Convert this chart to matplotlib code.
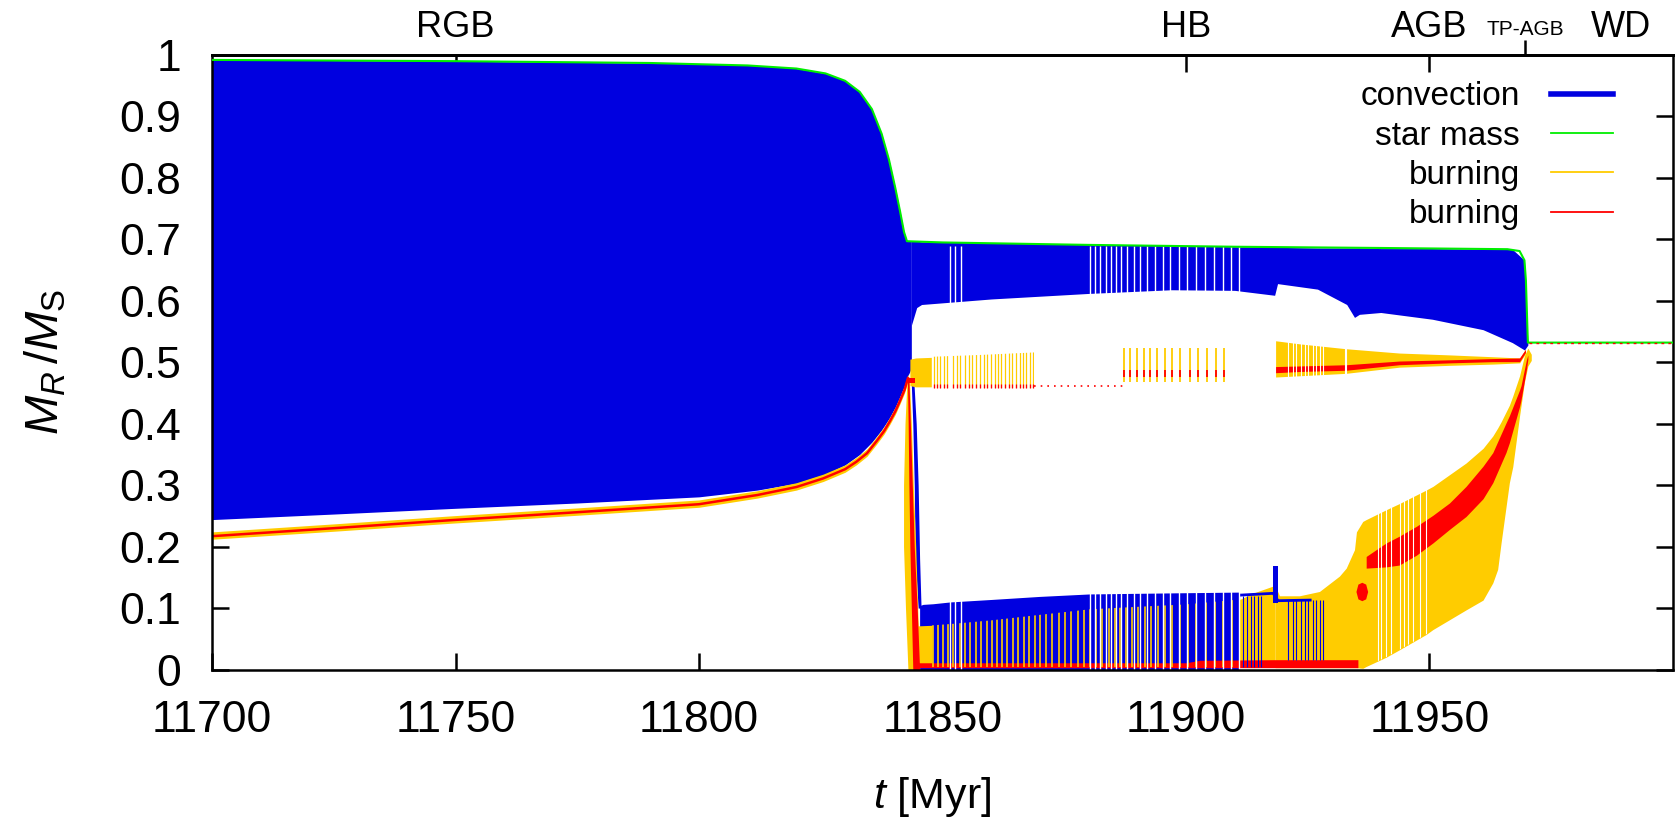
import matplotlib.pyplot as plt
from matplotlib.lines import Line2D

plt.rcParams['font.family'] = 'Liberation Sans'
plt.rcParams['mathtext.fontset'] = 'custom'
plt.rcParams['mathtext.rm'] = 'Liberation Sans'
plt.rcParams['mathtext.it'] = 'Liberation Sans:italic'

BLUE = '#0000e0'
YELLOW = '#ffcc00'
RED = '#ff0000'
GREEN = '#00ee00'

# axis ticks / labels
x_ticks = [11700, 11750, 11800, 11850, 11900, 11950]
y_ticks = [0, 0.1, 0.2, 0.3, 0.4, 0.5, 0.6, 0.7, 0.8, 0.9, 1.0]
y_labels = ['0', '0.1', '0.2', '0.3', '0.4', '0.5', '0.6', '0.7', '0.8', '0.9', '1']
phase_t = [11750, 11900, 11950]
phase_names = ['RGB', 'HB', 'AGB']
legend_labels = ['convection', 'star mass', 'burning', 'burning']

# star mass
t_star = [11700, 11750, 11790, 11810, 11820, 11826, 11830, 11833, 11835.5, 11837.5, 11839,
          11840.3, 11841.3, 11842.1, 11842.7, 11850, 11880, 11910, 11940, 11966, 11968.5,
          11969.5, 11969.8, 11970.2, 12000]
m_star = [0.992, 0.990, 0.987, 0.983, 0.978, 0.970, 0.958, 0.940, 0.912, 0.872, 0.830,
          0.784, 0.745, 0.712, 0.697, 0.695, 0.691, 0.688, 0.686, 0.684, 0.681,
          0.666, 0.633, 0.532, 0.532]

# convective envelope on the RGB
t_rgb = [11700, 11725, 11749, 11775, 11800, 11812, 11820, 11826, 11830, 11833, 11835.5,
         11837.5, 11839, 11840.3, 11841.3, 11842.1, 11842.7, 11843.6]
rgb_lo = [0.244, 0.253, 0.262, 0.271, 0.281, 0.292, 0.303, 0.318, 0.333, 0.350, 0.370,
          0.390, 0.408, 0.427, 0.445, 0.460, 0.475, 0.490]
rgb_hi = [0.992, 0.991, 0.990, 0.988, 0.986, 0.983, 0.978, 0.970, 0.958, 0.940, 0.912,
          0.872, 0.830, 0.784, 0.745, 0.712, 0.697, 0.697]

# convective envelope after the flash
t_hb = [11843.6, 11844.7, 11845.7, 11860, 11880, 11897, 11910, 11918.2, 11918.8, 11927,
        11933, 11934.6, 11935.6, 11940, 11950.6, 11961, 11967, 11969.5, 11970.2]
hb_lo = [0.560, 0.589, 0.594, 0.603, 0.612, 0.618, 0.617, 0.609, 0.628, 0.619,
         0.594, 0.573, 0.578, 0.581, 0.570, 0.553, 0.532, 0.520, 0.528]
hb_hi = [0.697, 0.697, 0.696, 0.694, 0.692, 0.690, 0.688, 0.687, 0.687, 0.686,
         0.686, 0.686, 0.686, 0.685, 0.685, 0.684, 0.684, 0.666, 0.532]

# hydrogen shell on the RGB
t_hsh = [11700, 11725, 11749, 11775, 11800, 11812, 11820, 11825.5, 11830, 11832.3, 11834.5,
         11836.4, 11838, 11839.2, 11840.3, 11841.2, 11842.2, 11842.9]
hsh_m = [0.217, 0.230, 0.243, 0.256, 0.269, 0.284, 0.297, 0.311, 0.326, 0.338, 0.352,
         0.371, 0.388, 0.404, 0.420, 0.436, 0.455, 0.474]
hsh_lo = [0.212, 0.225, 0.238, 0.251, 0.264, 0.279, 0.292, 0.306, 0.321, 0.333, 0.347,
          0.366, 0.383, 0.399, 0.415, 0.431, 0.450, 0.469]
hsh_hi = [0.224, 0.237, 0.250, 0.263, 0.276, 0.291, 0.304, 0.318, 0.333, 0.345, 0.359,
          0.378, 0.395, 0.411, 0.427, 0.443, 0.462, 0.481]

# helium flash drop (as functions of mass)
drop_m = [0.0, 0.1, 0.2, 0.3, 0.4, 0.47]
drop_yel_l = [11842.9, 11842.4, 11842.0, 11842.0, 11842.3, 11842.7]
drop_yel_r = [11845.3, 11844.9, 11844.5, 11844.0, 11843.6, 11843.2]
drop_red_l = [11843.9, 11843.6, 11843.3, 11843.1, 11842.95, 11842.8]
drop_red_r = [11845.3, 11844.8, 11844.2, 11843.8, 11843.4, 11843.1]
drop_blue_m = [0.10, 0.18, 0.30, 0.40, 0.485]
drop_blue_l = [11845.0, 11844.4, 11844.2, 11843.9, 11843.5]
drop_blue_r = [11845.6, 11845.3, 11845.0, 11844.6, 11844.0]

# convective core on the HB
t_core = [11845.3, 11846.0, 11848.0, 11851.6, 11860, 11870, 11880.2, 11890, 11900, 11911]
core_blue_top = [0.104, 0.106, 0.107, 0.110, 0.114, 0.119, 0.123, 0.124, 0.125, 0.126]
core_yel_top = [0.071, 0.071, 0.072, 0.074, 0.080, 0.089, 0.098, 0.102, 0.106, 0.114]
t_core0 = [11844.8, 11847.9]
core0_top = [0.071, 0.072]
core_pulses = [11848.05, 11849.08, 11850.11, 11851.13, 11852.16, 11853.53, 11854.55, 11855.58,
               11856.81, 11857.98, 11859.14, 11860.23, 11861.26, 11862.29, 11863.31, 11864.47,
               11865.50, 11866.66, 11867.76, 11868.92, 11870.09, 11871.32, 11872.55, 11873.85,
               11875.08, 11876.45, 11877.82, 11879.05, 11880.35, 11881.58, 11882.81, 11884.11,
               11885.34, 11886.51, 11887.74, 11888.97, 11890.20, 11891.50, 11892.87, 11894.24,
               11895.61, 11897.04, 11898.68, 11900.39, 11902.10, 11904.02, 11905.87, 11907.58,
               11909.43, 11911.14]
t_wedge = [11911, 11914, 11918.3]
wedge_top = [0.114, 0.125, 0.137]
wedge_blue = [11911.8, 11912.6, 11913.3, 11914.0, 11914.7, 11915.4]
t_rb = [11845.0, 11900, 11902.8, 11918, 11935.3]
rb_hi = [0.011, 0.011, 0.015, 0.016, 0.016]
t_spike = [11917.9, 11918.9]
spike_lo = [0.108, 0.108]
spike_hi = [0.168, 0.168]
t_bline = [11911, 11917.9, 11918.9, 11925.5]
m_bline = [0.121, 0.124, 0.112, 0.113]

# time steps missing in the output
env_gaps = [11851.48, 11852.50, 11853.87, 11880.21, 11881.24, 11882.26, 11883.50, 11884.66,
            11885.68, 11886.71, 11887.94, 11889.24, 11890.47, 11892.05, 11893.55, 11895.26,
            11896.77, 11898.55, 11900.19, 11901.97, 11903.82, 11905.66, 11907.58, 11909.29,
            11910.86]

# hydrogen shell on the HB
t_fl = [11843.3, 11844.5, 11847.7]
fl_lo = [0.462, 0.460, 0.460]
fl_hi = [0.505, 0.507, 0.508]
t_flr = [11843.0, 11844.4]
flr_lo = [0.466, 0.466]
flr_hi = [0.474, 0.474]
mid_bars1 = [11848.19, 11848.88, 11849.56, 11850.24, 11850.93, 11852.16, 11852.98, 11853.66,
             11854.55, 11855.37, 11856.13, 11856.95, 11857.63, 11858.45, 11859.21, 11859.89,
             11860.71, 11861.40, 11862.08, 11862.90, 11863.59, 11864.34, 11865.02, 11865.84,
             11866.53, 11867.21, 11867.90, 11868.58]
t_mid1 = [11848.0, 11858, 11868.8]
mid1_lo = [0.458, 0.458, 0.458]
mid1_hi = [0.509, 0.512, 0.516]
t_dots = [11868.8, 11887.0]
m_dots = [0.462, 0.462]
mid_bars2 = [11887.19, 11888.56, 11889.93, 11891.29, 11892.66, 11894.03, 11895.67, 11897.18,
             11898.82, 11900.74, 11902.51, 11904.29, 11906.21, 11907.85]

# hydrogen shell on the AGB
t_band = [11918.4, 11923.3, 11932.9, 11943.8, 11954.1, 11963.0, 11968.5, 11969.7]
band_yel_lo = [0.476, 0.478, 0.482, 0.492, 0.495, 0.497, 0.499, 0.514]
band_yel_hi = [0.535, 0.530, 0.522, 0.515, 0.512, 0.509, 0.507, 0.521]
band_red_lo = [0.483, 0.485, 0.487, 0.496, 0.499, 0.501, 0.501, 0.516]
band_red_hi = [0.493, 0.494, 0.496, 0.502, 0.504, 0.506, 0.507, 0.521]
agb_gaps1 = [11920.93, 11921.96, 11922.64, 11923.67, 11924.35, 11925.04, 11926.06, 11926.75,
             11927.43, 11928.11, 11932.56, 11932.90]

# helium shell on the AGB
t_blob = [11918.3, 11919.2, 11923.3, 11927.4, 11931.5, 11932.9, 11934.6, 11935.0, 11936.3,
          11937.0, 11941.1, 11943.8, 11949.3, 11950.7, 11957.5, 11961.0, 11963.0, 11964.0,
          11964.7, 11966.4, 11967.1, 11968.5, 11969.5, 11970.2, 11970.9]
blob_hi = [0.137, 0.120, 0.120, 0.127, 0.152, 0.165, 0.195, 0.224, 0.241, 0.244, 0.260,
           0.270, 0.292, 0.298, 0.336, 0.360, 0.380, 0.393, 0.403, 0.430, 0.445, 0.478,
           0.511, 0.523, 0.513]
blob_lo = [0.003, 0.003, 0.003, 0.003, 0.003, 0.003, 0.003, 0.003, 0.002, 0.005, 0.020,
           0.032, 0.057, 0.065, 0.097, 0.113, 0.141, 0.163, 0.206, 0.304, 0.330, 0.413,
           0.468, 0.494, 0.503]
agb_gaps2 = [11939.40, 11940.09, 11941.11, 11942.14, 11943.85, 11944.67, 11945.56, 11946.59,
             11947.96, 11949.32]
t_rsh = [11937.0, 11941.1, 11943.8, 11947.3, 11950.7, 11954.1, 11957.5, 11961.0, 11963.0,
         11965.7, 11966.4, 11968.5, 11968.8, 11969.9, 11970.2]
rsh_hi = [0.184, 0.206, 0.217, 0.233, 0.251, 0.271, 0.298, 0.331, 0.353, 0.401, 0.413,
          0.455, 0.462, 0.504, 0.512]
rsh_lo = [0.165, 0.167, 0.170, 0.186, 0.206, 0.228, 0.249, 0.278, 0.304, 0.353, 0.369,
          0.428, 0.439, 0.488, 0.505]
t_rblob = [11934.9, 11935.3, 11936.1, 11936.9, 11937.3]
rblob_lo = [0.127, 0.115, 0.112, 0.115, 0.127]
rblob_hi = [0.127, 0.139, 0.142, 0.139, 0.127]

# white dwarf
t_tail = [11970.5, 12000]
m_tail = [0.532, 0.532]


fig = plt.figure(figsize=(16.76, 8.21), dpi=100)
ax = fig.add_axes([0.1265, 0.1845, 0.8717, 0.7485])

# convection
ax.fill_between(t_rgb, rgb_lo, rgb_hi, color=BLUE, lw=0)
ax.fill_between(t_hb, hb_lo, hb_hi, color=BLUE, lw=0)
ax.fill_betweenx(drop_blue_m, drop_blue_l, drop_blue_r, color=BLUE, lw=0)
ax.fill_between(t_core, 0, core_blue_top, color=BLUE, lw=0)
ax.fill_between(t_core0, 0.004, core0_top, color=YELLOW, lw=0)
clip_core = ax.fill_between(t_core, 0.004, core_yel_top, color='none', lw=0)
bars = ax.vlines(core_pulses, 0, 0.2, color=YELLOW, lw=1.2)
bars.set_clip_path(clip_core.get_paths()[0], clip_core.get_transform())
ax.fill_between(t_wedge, 0.004, wedge_top, color=YELLOW, lw=0)
ax.vlines(wedge_blue, 0.004, 0.12, color=BLUE, lw=0.8)

# helium flash
ax.fill_betweenx(drop_m, drop_yel_l, drop_yel_r, color=YELLOW, lw=0)
ax.fill_betweenx(drop_m, drop_red_l, drop_red_r, color=RED, lw=0)

# AGB helium shell
blob = ax.fill_between(t_blob, blob_lo, blob_hi, color=YELLOW, lw=0)
g2 = ax.vlines(agb_gaps2, 0, 0.4, color='white', lw=0.8)
g2.set_clip_path(blob.get_paths()[0], blob.get_transform())
ax.fill_between(t_rsh, rsh_lo, rsh_hi, color=RED, lw=0)
ax.fill_between(t_rblob, rblob_lo, rblob_hi, color=RED, lw=0)
ax.vlines(agb_gaps1[:10], 0.016, 0.113, color=BLUE, lw=0.8)
ax.fill_between(t_spike, spike_lo, spike_hi, color=BLUE, lw=0)
ax.plot(t_bline, m_bline, color=BLUE, lw=2)

# core helium burning
ax.fill_between(t_rb, 0.003, rb_hi, color=RED, lw=0)

# missing time steps
ax.vlines(env_gaps, 0, 0.69, color='white', lw=1.0)

# hydrogen shell
ax.fill_between(t_hsh, hsh_lo, hsh_hi, color=YELLOW, lw=0)
ax.plot(t_hsh, hsh_m, color=RED, lw=1.8)
ax.fill_between(t_fl, fl_lo, fl_hi, color=YELLOW, lw=0)
ax.fill_between(t_flr, flr_lo, flr_hi, color=RED, lw=0)
clip_mid = ax.fill_between(t_mid1, mid1_lo, mid1_hi, color='none', lw=0)
mb = ax.vlines(mid_bars1, 0.4, 0.6, color=YELLOW, lw=0.9)
mb.set_clip_path(clip_mid.get_paths()[0], clip_mid.get_transform())
ax.vlines(mid_bars1, 0.458, 0.465, color=RED, lw=0.9)
ax.plot(t_dots, m_dots, color=RED, lw=1.2, ls=(0, (1, 3)))
ax.vlines(mid_bars2, 0.468, 0.523, color=YELLOW, lw=1.3)
ax.vlines(mid_bars2, 0.476, 0.487, color=RED, lw=1.3)
ax.fill_between(t_band, band_yel_lo, band_yel_hi, color=YELLOW, lw=0)
ax.vlines(agb_gaps1, 0.47, 0.54, color='white', lw=0.8)
ax.fill_between(t_band, band_red_lo, band_red_hi, color=RED, lw=0)

# star mass
ax.plot(t_star, m_star, color=GREEN, lw=1.5, zorder=3)
ax.plot(t_tail, m_tail, color=RED, lw=1.0, ls=(0, (2, 3)), zorder=3)

ax.set_xlim(11700, 12000)
ax.set_ylim(0, 1)
ax.set_xticks(x_ticks)
ax.set_yticks(y_ticks, y_labels)
ax.tick_params(direction='in', length=11.9, width=1.8, labelsize=32, pad=22,
               right=True, top=False)
for s in ax.spines.values():
    s.set_linewidth(1.8)
ax.set_axisbelow(True)

sec = ax.secondary_xaxis('top')
sec.set_xticks(phase_t, phase_names)
sec.tick_params(direction='in', length=11.9, width=1.8, labelsize=26, pad=7.5)
sec.spines['top'].set_linewidth(1.8)
sec2 = ax.secondary_xaxis('top')
sec2.set_xticks([11969.6], ['TP-AGB'])
sec2.tick_params(direction='out', length=10.8, width=1.8, labelsize=15, pad=0.5)
sec2.spines['top'].set_linewidth(1.8)
sec3 = ax.secondary_xaxis('top')
sec3.set_xticks([11989.4], ['WD'])
sec3.tick_params(length=0, labelsize=26, pad=7.5)
sec3.spines['top'].set_linewidth(1.8)

ax.set_xlabel(r'$t$ [Myr]', fontsize=31)
ax.xaxis.set_label_coords(0.493, -0.172)
ax.set_ylabel(r'$M_R\,/M_\mathrm{S}$', fontsize=34)
ax.yaxis.set_label_coords(-0.098, 0.5)

handles = [Line2D([], [], color=BLUE, lw=4),
           Line2D([], [], color=GREEN, lw=1.3),
           Line2D([], [], color=YELLOW, lw=1.3),
           Line2D([], [], color=RED, lw=1.3)]
ax.legend(handles, legend_labels, loc='upper right', bbox_to_anchor=(0.959, 0.957),
          frameon=False, markerfirst=False, fontsize=24, handlelength=1.85,
          handletextpad=0.95, labelspacing=0.25, borderpad=0, borderaxespad=0)

fig.savefig('out.png', dpi=100)
